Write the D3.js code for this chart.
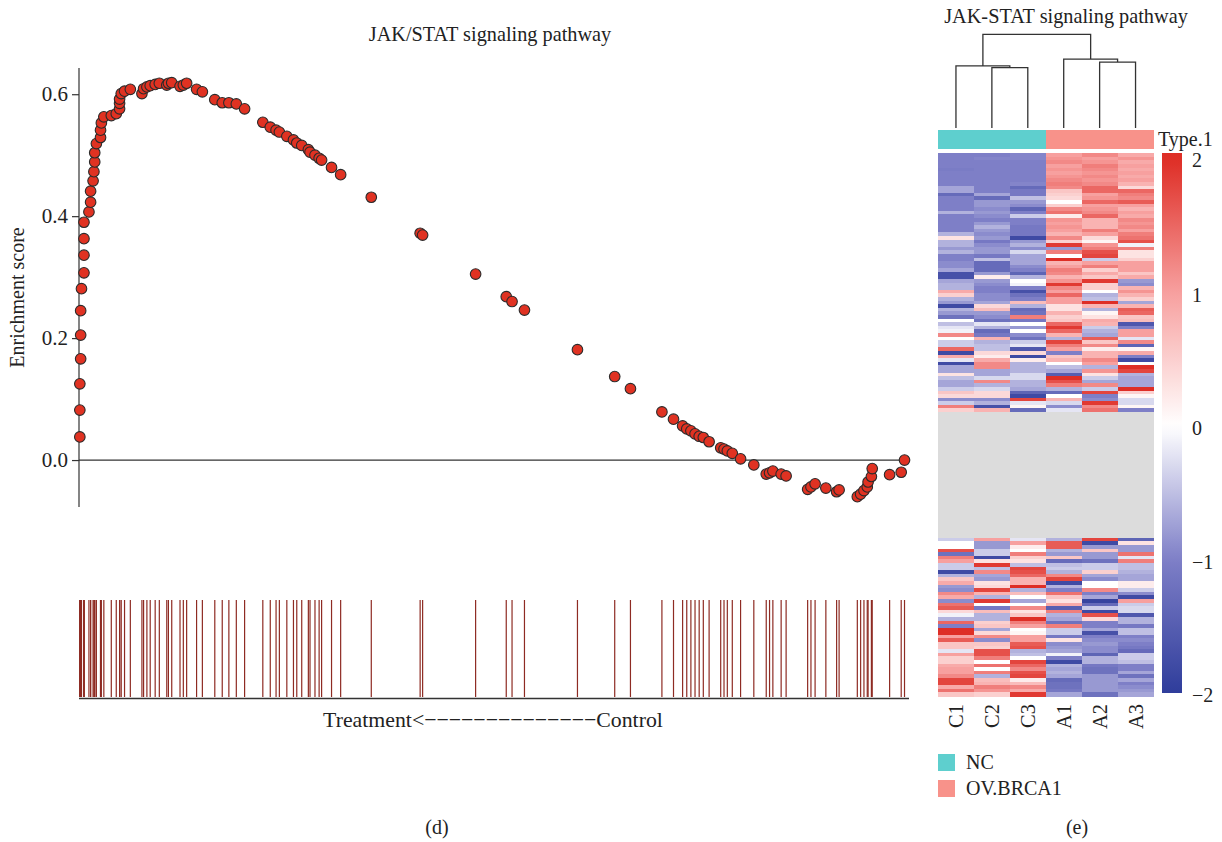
<!DOCTYPE html>
<html>
<head>
<meta charset="utf-8">
<script src="https://cdn.jsdelivr.net/npm/d3@7"></script>
<style>
  html, body { margin: 0; padding: 0; background: #fff; }
  svg { display: block; font-family: "Liberation Serif", "DejaVu Serif", serif; }
</style>
</head>
<body>
<svg id="chart" width="1222" height="842"></svg>
<script>
// ---------------- DATA ----------------
// GSEA running enrichment score at each hit (gene rank on a 0..1000 scale)
const hitRanks = [1,1,1,2,2,2,3,6,6,6,6,12,14,14,17,18,19,19,21,26,26,27,30,39,45,49,49,49,51,55,62,76,78,82,86,92,97,106,108,112,122,126,130,142,149,164,173,181,190,200,222,231,238,242,251,259,263,269,277,279,285,290,293,305,316,353,412,415,479,516,523,538,602,647,666,704,718,729,734,739,744,749,754,761,775,779,783,789,799,815,830,834,838,848,854,880,884,889,902,915,918,940,944,948,952,953,957,958,979,993,997];
const hitScores = [0.038,0.082,0.125,0.166,0.205,0.245,0.281,0.307,0.336,0.363,0.390,0.407,0.423,0.441,0.458,0.473,0.489,0.504,0.519,0.529,0.541,0.553,0.563,0.565,0.568,0.576,0.585,0.592,0.601,0.605,0.608,0.601,0.609,0.612,0.614,0.616,0.618,0.615,0.618,0.619,0.613,0.615,0.618,0.608,0.604,0.591,0.586,0.586,0.584,0.576,0.554,0.546,0.541,0.538,0.531,0.525,0.520,0.516,0.509,0.505,0.500,0.495,0.492,0.480,0.468,0.431,0.372,0.369,0.305,0.268,0.260,0.246,0.181,0.137,0.117,0.079,0.067,0.056,0.051,0.048,0.043,0.039,0.037,0.030,0.020,0.018,0.015,0.011,0.002,-0.008,-0.023,-0.021,-0.018,-0.023,-0.026,-0.048,-0.044,-0.039,-0.046,-0.052,-0.049,-0.060,-0.056,-0.050,-0.044,-0.036,-0.027,-0.014,-0.024,-0.020,0.000];
const yTicks = [0, 0.2, 0.4, 0.6];

// Heatmap (row z-scores); columns in order C1,C2,C3,A1,A2,A3
const samples = ["C1","C2","C3","A1","A2","A3"];
const sampleGroup = ["NC","NC","NC","OV.BRCA1","OV.BRCA1","OV.BRCA1"];
const groups = ["NC","OV.BRCA1"];
const rowsTop = [
[-1.0,-1.0,-0.95,1.0,1.2,0.9],[-1.0,-0.95,-0.95,1.1,1.0,1.1],[-1.0,-1.0,-1.0,1.2,1.1,0.9],[-1.0,-1.0,-1.0,1.0,1.3,1.0],
[-1.05,-1.0,-1.0,1.1,1.2,0.9],[-1.0,-1.0,-1.0,1.0,1.1,1.0],[-1.0,-1.0,-1.0,1.1,1.2,0.9],[-1.0,-1.0,-1.0,1.2,1.1,1.0],
[-1.0,-1.0,-0.95,1.3,1.2,0.8],[-0.7,-1.0,-1.3,1.2,1.5,0.4],[-0.7,-1.0,-1.1,0.6,1.5,1.5],[-1.3,-0.7,-1.1,0.5,1.0,1.3],
[-1.0,-1.3,-0.5,0.4,1.1,1.2],[-1.0,-0.8,-0.8,0.0,1.5,1.6],[-1.0,-0.8,-0.9,0.5,1.0,1.0],[-1.0,-0.9,-1.4,1.2,1.1,0.8],
[-0.6,-0.8,-1.0,1.4,1.2,1.0],[-1.0,-0.9,-0.4,0.2,1.5,0.9],[-1.0,-1.0,-1.0,1.1,0.8,1.2],[-1.0,-0.8,-1.0,1.0,0.8,1.1],
[-1.0,-0.6,-1.1,1.1,0.8,1.2],[-1.0,-0.8,-1.1,1.0,1.3,1.0],[-0.6,-0.9,-1.1,0.8,1.0,1.3],[0.3,-0.8,-1.8,1.2,0.4,1.4],
[-0.6,-1.1,-0.8,0.5,0.1,1.7],[-0.6,-0.9,-0.6,1.9,1.1,-0.1],[-0.8,-0.8,-0.9,-0.8,1.3,1.3],[-0.6,-0.8,-0.3,1.3,1.7,0.3],
[-1.0,-1.1,-0.7,0.0,1.8,0.3],[-1.0,-0.5,-0.7,2.0,-0.4,0.5],[-0.9,-1.3,-0.7,0.8,1.0,1.0],[-0.9,-1.3,-0.9,1.0,1.3,1.0],
[-0.7,-1.3,-1.0,1.3,0.5,1.0],[-1.7,-0.8,-1.4,1.2,0.9,0.6],[-1.7,0.2,-0.6,0.8,0.6,0.9],[-0.7,-0.8,0.0,1.1,1.9,-0.8],
[-0.6,-0.9,-0.1,1.9,0.5,-0.9],[-0.6,-1.0,-1.0,1.2,0.5,0.8],[0.9,-1.0,-1.7,1.0,0.0,1.1],[0.5,-0.9,-1.2,1.5,-0.6,0.8],
[-0.6,-0.9,-1.0,1.0,-0.5,0.5],[-0.8,-0.7,0.7,1.0,2.0,-0.7],[-1.8,0.4,-0.6,0.3,0.8,0.8],[-0.6,0.7,-1.3,0.3,-0.6,1.6],
[-0.8,-0.8,-1.2,0.8,0.1,1.5],[-1.2,-0.9,1.3,0.5,0.3,0.6],[0.0,-1.2,-1.1,0.6,0.9,0.7],[-0.5,-0.2,0.0,1.5,0.8,-1.6],
[-0.2,-0.6,-0.8,1.9,-0.4,-1.0],[-0.1,-1.3,0.0,1.5,-0.6,1.0],[1.2,-1.1,-0.9,0.8,-0.7,1.0],[0.0,0.8,-1.2,-0.6,1.6,-0.2],
[-0.4,-0.6,-0.4,1.8,0.6,1.2],[-0.4,-0.5,-0.2,1.3,1.2,-1.4],[1.5,-0.5,-1.6,1.0,0.2,0.1],[-1.8,0.4,0.4,-1.0,0.8,0.9],
[0.9,0.2,-1.8,0.6,0.8,-1.0],[-0.2,0.9,0.2,0.8,1.2,-1.8],[-1.8,1.2,-0.6,0.0,1.0,0.0],[-0.7,1.2,-0.6,-0.5,-0.6,2.0],
[-0.7,-0.7,-0.6,-0.7,1.1,1.8],[0.3,-0.7,-0.3,-1.5,0.3,-0.6],[-0.5,-0.3,-0.3,2.0,-0.4,-0.7],[-0.7,1.2,-0.6,1.7,-0.7,-0.7],
[-0.7,-0.6,-0.6,1.3,1.2,-0.7],[-0.4,-0.3,-0.7,-0.6,-0.4,2.0],[0.6,0.4,-1.4,-1.3,1.8,0.5],[0.4,0.4,-1.8,0.0,-1.0,0.1],
[-0.9,-0.9,1.8,0.8,-0.9,-0.3],[-0.4,-0.6,-0.2,-0.3,1.9,-0.3],[1.3,-1.7,0.1,-0.9,1.2,0.1],[0.5,0.8,-1.3,-0.2,1.4,-1.0]
];
const naRowCount = 35; // genes with no value (grey block)
const rowsBottom = [
[-0.4,1.0,-0.2,-0.6,1.8,-1.4],[0.0,-0.8,1.0,1.6,-1.8,0.3],[0.0,-0.8,0.2,1.6,-0.8,-0.8],[1.7,-0.4,0.0,-0.6,0.6,-0.8],
[-1.2,-0.4,1.3,-0.8,-0.8,1.4],[1.3,-1.8,0.5,0.6,-0.8,-0.2],[1.0,0.3,0.3,-1.3,-1.2,1.3],[-0.4,1.9,-0.5,-0.5,-0.4,-0.5],
[-0.4,-0.5,1.8,-0.4,-0.4,-0.5],[-1.8,1.2,1.7,-0.6,0.5,-0.6],[-0.6,-0.7,1.5,1.2,-0.7,-0.7],[0.6,-0.8,0.8,1.8,-0.9,-0.7],
[0.9,0.3,0.8,-1.8,0.0,0.2],[-0.8,0.4,2.0,-0.6,0.0,0.2],[-0.9,1.8,-0.6,-1.0,1.2,-0.4],[1.2,0.8,0.7,1.4,-1.0,-0.9],
[0.9,-0.6,0.0,0.6,-0.7,-1.8],[-0.9,1.9,-0.7,0.3,-1.9,1.0],[1.4,0.0,0.0,0.9,-1.3,-0.4],[1.6,-1.1,1.2,-1.5,-0.4,-0.3],
[0.4,0.7,0.3,1.3,-1.8,-0.3],[-0.1,-0.6,0.6,-0.6,1.7,-1.6],[-0.6,-0.6,2.0,-0.7,0.4,-0.6],[1.5,0.5,1.3,-1.2,-1.0,-0.6],
[-1.0,0.6,1.0,1.3,-1.0,-1.1],[2.0,-0.7,0.0,-0.4,-0.7,-0.5],[2.0,0.4,0.1,-0.4,-1.7,-0.5],[1.0,1.2,1.0,-1.1,-1.0,-1.0],
[1.6,-0.9,1.0,0.3,-0.9,-0.9],[0.6,0.6,1.6,-0.9,-0.8,-1.0],[0.6,0.5,1.7,-0.8,-0.9,-1.1],[-0.2,1.7,-0.6,-0.7,-0.9,-1.3],
[1.0,1.7,-0.5,-0.1,-1.4,-0.4],[0.5,1.3,0.0,-1.0,-0.6,-0.4],[0.5,0.0,1.8,-1.8,-0.6,-0.5],[0.9,1.4,1.5,-0.6,-1.1,-1.0],
[1.0,0.0,1.2,-0.7,-1.2,-1.0],[1.0,1.3,1.7,-0.6,-1.2,-0.7],[1.2,-0.6,1.8,-0.7,-0.8,-1.2],[1.8,0.7,0.2,-1.3,-0.8,-0.7],
[1.8,0.8,0.7,-1.2,-0.8,-1.0],[0.9,1.3,1.2,-1.2,-0.8,-0.9],[1.4,1.1,0.9,-1.1,-0.8,-0.8],[0.6,0.5,1.9,-0.7,-1.2,-0.7]
];
// Column dendrogram merge heights (root = 100)
const mergeC2C3 = 64.4, mergeC1 = 66.2, mergeA2A3 = 70.4, mergeA1 = 73.6, mergeRoot = 100;
const legendTicks = [2, 1, 0, -1, -2];

// ---------------- DRAW ----------------
const svg = d3.select("#chart");
const FONT = 20;
const ink = "#222";

// ===== Left panel: GSEA enrichment plot =====
const x = d3.scaleLinear().domain([0, 1000]).range([79, 907]);
const y = d3.scaleLinear().domain([-0.077, 0.643]).range([507, 68]);

svg.append("text").attr("x", 490).attr("y", 41).attr("text-anchor", "middle")
  .attr("font-size", 20.3).attr("fill", ink).text("JAK/STAT signaling pathway");

const yAxis = d3.axisLeft(y).tickValues(yTicks).tickFormat(d3.format(".1f")).tickSize(7).tickPadding(4);
const gy = svg.append("g").attr("transform", "translate(79,0)").call(yAxis);
gy.select(".domain").attr("stroke", "#333").attr("stroke-width", 1.2).attr("d", `M0,${y.range()[1]}V${y.range()[0]}`);
gy.selectAll(".tick line").attr("stroke", "#333").attr("stroke-width", 1.2);
gy.selectAll(".tick text").attr("font-family", "Liberation Serif").attr("font-size", 21).attr("fill", ink);

// zero line
svg.append("line").attr("x1", 79).attr("x2", 910).attr("y1", y(0)).attr("y2", y(0))
  .attr("stroke", "#333").attr("stroke-width", 1.2);

svg.append("text").attr("transform", `translate(24,${(68 + 507) / 2 + 10}) rotate(-90)`)
  .attr("text-anchor", "middle").attr("font-size", 20).attr("fill", ink).text("Enrichment score");

svg.append("g").selectAll("circle").data(hitRanks.map((r, i) => ({ r, s: hitScores[i] })))
  .join("circle")
  .attr("cx", d => x(d.r)).attr("cy", d => y(d.s)).attr("r", 5.3)
  .attr("fill", "#E03222").attr("stroke", "#2b2b2b").attr("stroke-width", 1.1);

// barcode
const bcTop = 600, bcBot = 697;
svg.append("g").selectAll("line").data(hitRanks).join("line")
  .attr("x1", d => x(d)).attr("x2", d => x(d)).attr("y1", bcTop).attr("y2", bcBot)
  .attr("stroke", "#8E2B23").attr("stroke-width", 1.2);
svg.append("line").attr("x1", 79).attr("x2", 909).attr("y1", 698.5).attr("y2", 698.5)
  .attr("stroke", "#333").attr("stroke-width", 1.6);

svg.append("text").attr("x", 493).attr("y", 727).attr("text-anchor", "middle")
  .attr("font-size", 21.8).attr("fill", ink)
  .text("Treatment<" + "\u2212".repeat(14) + "Control");

svg.append("text").attr("x", 437).attr("y", 834).attr("text-anchor", "middle")
  .attr("font-size", FONT).attr("fill", ink).text("(d)");

// ===== Right panel: heatmap =====
const allRows = [...rowsTop, ...d3.range(naRowCount).map(() => samples.map(() => null)), ...rowsBottom];
const hx = d3.scaleBand().domain(samples).range([938, 1153.5]);
const hy = d3.scaleBand().domain(d3.range(allRows.length)).range([153.3, 696]);
const color = d3.scaleLinear().domain([-2, -1, 0, 1, 2])
  .range(["#2F3D9B", "#7E7FC7", "#FFFFFF", "#F7A09F", "#DE2E26"]).clamp(true);

svg.append("text").attr("x", 1066).attr("y", 23).attr("text-anchor", "middle")
  .attr("font-size", 20.3).attr("fill", ink).text("JAK-STAT signaling pathway");

// dendrogram
const dh = d3.scaleLinear().domain([0, mergeRoot]).range([128, 34.3]);
const cx = s => hx(s) + hx.bandwidth() / 2;
const cxC23 = (cx("C2") + cx("C3")) / 2, cxC = (cx("C1") + cxC23) / 2;
const cxA23 = (cx("A2") + cx("A3")) / 2, cxA = (cx("A1") + cxA23) / 2;
const dend = [
  // [xLeft, hLeft, xRight, hRight, hMerge]
  [cx("C2"), 0, cx("C3"), 0, mergeC2C3],
  [cx("C1"), 0, cxC23, mergeC2C3, mergeC1],
  [cx("A2"), 0, cx("A3"), 0, mergeA2A3],
  [cx("A1"), 0, cxA23, mergeA2A3, mergeA1],
  [cxC, mergeC1, cxA, mergeA1, mergeRoot]
];
svg.append("g").selectAll("path").data(dend).join("path")
  .attr("d", d => `M${d[0]},${dh(d[1])}V${dh(d[4])}H${d[2]}V${dh(d[3])}`)
  .attr("fill", "none").attr("stroke", "#333").attr("stroke-width", 1.3);

// annotation bar
const groupColor = d3.scaleOrdinal().domain(groups).range(["#5ECFCE", "#F8928A"]);
svg.append("g").attr("shape-rendering", "crispEdges").selectAll("rect").data(samples).join("rect")
  .attr("x", d => hx(d)).attr("width", hx.bandwidth() + 0.5)
  .attr("y", 130).attr("height", 19)
  .attr("fill", (d, i) => groupColor(sampleGroup[i]));
svg.append("text").attr("x", 1158).attr("y", 146).attr("font-size", FONT).attr("fill", ink).text("Type.1");

// cells
const cells = [];
allRows.forEach((row, r) => row.forEach((v, c) => cells.push({ r, c, v })));
svg.append("g").attr("shape-rendering", "crispEdges").selectAll("rect").data(cells).join("rect")
  .attr("x", d => hx(samples[d.c])).attr("width", hx.bandwidth() + 0.5)
  .attr("y", d => hy(d.r)).attr("height", hy.bandwidth() + 0.6)
  .attr("fill", d => d.v === null ? "#DCDCDC" : color(d.v));

// column labels
svg.append("g").selectAll("text").data(samples).join("text")
  .attr("transform", d => `translate(${cx(d) + 7},704) rotate(-90)`)
  .attr("text-anchor", "end").attr("font-size", 20.5).attr("fill", ink).text(d => d);

// colour key
const keyTop = 153, keyBot = 693;
const ky = d3.scaleLinear().domain([2.05, -2.0]).range([keyTop, keyBot]);
const defs = svg.append("defs");
const grad = defs.append("linearGradient").attr("id", "keygrad").attr("x1", 0).attr("x2", 0).attr("y1", 0).attr("y2", 1);
d3.range(0, 1.0001, 0.02).forEach(t => {
  const v = ky.invert(keyTop + t * (keyBot - keyTop));
  grad.append("stop").attr("offset", t).attr("stop-color", color(v));
});
svg.append("rect").attr("x", 1162).attr("y", keyTop).attr("width", 20).attr("height", keyBot - keyTop)
  .attr("fill", "url(#keygrad)");
svg.append("g").selectAll("text").data(legendTicks).join("text")
  .attr("x", 1192).attr("y", d => ky(d) + 7 + (d === 2 ? 0 : 2))
  .attr("font-size", FONT).attr("fill", ink)
  .text(d => d < 0 ? "\u2212" + Math.abs(d) : String(d));

// group legend
const lg = svg.append("g").selectAll("g").data(groups).join("g")
  .attr("transform", (d, i) => `translate(938,${754 + i * 26})`);
lg.append("rect").attr("width", 17).attr("height", 17).attr("fill", d => groupColor(d));
lg.append("text").attr("x", 28).attr("y", 15).attr("font-size", FONT).attr("fill", ink).text(d => d);

svg.append("text").attr("x", 1077).attr("y", 834).attr("text-anchor", "middle")
  .attr("font-size", FONT).attr("fill", ink).text("(e)");
</script>
</body>
</html>
